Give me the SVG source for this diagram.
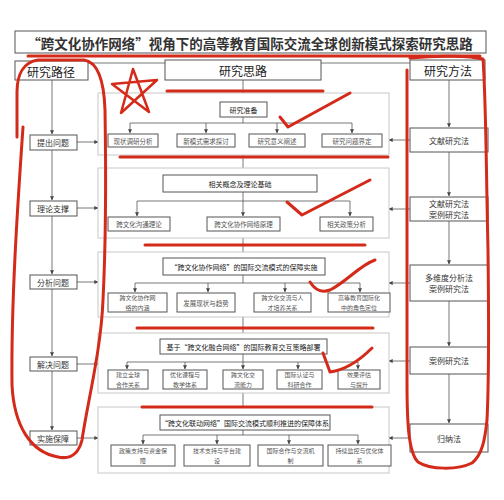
<svg xmlns="http://www.w3.org/2000/svg" width="504" height="500" viewBox="0 0 504 500">
<defs>
<marker id="ah" viewBox="0 0 6 6" refX="5.5" refY="3" markerWidth="5" markerHeight="5" orient="auto"><path d="M0,0 L6,3 L0,6 Z" fill="#444"/></marker>
<style>
text{font-family:"Noto Sans CJK SC","Noto Sans",sans-serif;fill:#333;text-anchor:middle;dominant-baseline:central}
.box{fill:#fff;stroke:#555;stroke-width:1}
.frame{fill:#fff;stroke:#c8c8c8;stroke-width:1}
.ln{fill:none;stroke:#555;stroke-width:0.8}
.ar{fill:none;stroke:#555;stroke-width:0.8;marker-end:url(#ah)}
.s{font-size:6.5px;fill:#555}
.t{font-size:6px;fill:#555}
.m{font-size:7px;fill:#222}
.r{font-size:8px;fill:#333}
.h{font-size:12px;fill:#222}
.red{fill:none;stroke:#d42a1a;stroke-width:3;stroke-linecap:round;stroke-linejoin:round}
</style>
</defs>
<rect width="504" height="500" fill="#fff"/>

<g id="title"><rect class="box" x="15" y="31" width="471" height="22"/><text x="250" y="42.5" style="font-size:13.5px;font-weight:bold" fill="#222">“跨文化协作网络”视角下的高等教育国际交流全球创新模式探索研究思路</text></g>

<g id="connectors">
<line class="ln" x1="88" y1="63" x2="165" y2="63"/>
<line class="ln" x1="321" y1="63" x2="410" y2="63"/>
<line class="ar" x1="52" y1="80" x2="52" y2="134"/>
<line class="ar" x1="52" y1="150" x2="52" y2="200"/>
<line class="ar" x1="52" y1="216" x2="52" y2="274"/>
<line class="ar" x1="52" y1="289" x2="52" y2="356"/>
<line class="ar" x1="52" y1="371" x2="52" y2="430"/>
<line class="ar" x1="77" y1="142" x2="98" y2="142"/>
<line class="ar" x1="77" y1="208" x2="98" y2="208"/>
<line class="ar" x1="77" y1="282" x2="98" y2="282"/>
<line class="ar" x1="77" y1="364" x2="98" y2="364"/>
<line class="ar" x1="77" y1="438" x2="98" y2="438"/>
<line class="ar" x1="449" y1="80" x2="449" y2="127"/>
<line class="ar" x1="449" y1="152" x2="449" y2="196"/>
<line class="ar" x1="449" y1="221" x2="449" y2="264"/>
<line class="ar" x1="449" y1="301" x2="449" y2="346"/>
<line class="ar" x1="449" y1="374" x2="449" y2="423"/>
<line class="ar" x1="410" y1="140" x2="389" y2="140"/>
<line class="ar" x1="410" y1="209" x2="389" y2="209"/>
<line class="ar" x1="410" y1="283" x2="389" y2="283"/>
<line class="ar" x1="410" y1="361" x2="389" y2="361"/>
<line class="ar" x1="410" y1="438" x2="389" y2="438"/>
<line class="ar" x1="243" y1="80" x2="243" y2="101"/>
<line class="ar" x1="243" y1="155" x2="243" y2="174"/>
<line class="ar" x1="243" y1="238" x2="243" y2="257"/>
<line class="ar" x1="243" y1="317" x2="243" y2="338"/>
<line class="ar" x1="243" y1="393" x2="243" y2="414"/>
</g>

<g id="left-header"><rect class="box" x="15" y="61" width="73" height="19"/><text class="h" x="51" y="71">研究路径</text></g>
<g id="mid-header"><rect class="box" x="165" y="60" width="156" height="20"/><text class="h" x="243" y="70">研究思路</text></g>
<g id="right-header"><rect class="box" x="410" y="60" width="75" height="20"/><text class="h" x="448" y="70">研究方法</text></g>

<g id="left-1"><rect class="box" x="30" y="135" width="47" height="15"/><text class="r" x="53" y="142.5">提出问题</text></g>
<g id="left-2"><rect class="box" x="30" y="201" width="47" height="15"/><text class="r" x="53" y="208.5">理论支撑</text></g>
<g id="left-3"><rect class="box" x="30" y="275" width="47" height="14"/><text class="r" x="53" y="282">分析问题</text></g>
<g id="left-4"><rect class="box" x="30" y="357" width="47" height="14"/><text class="r" x="53" y="364">解决问题</text></g>
<g id="left-5"><rect class="box" x="30" y="431" width="47" height="14"/><text class="r" x="53" y="438">实施保障</text></g>

<g id="right-1"><rect class="box" x="410" y="128" width="78" height="24"/><text class="r" x="449" y="140">文献研究法</text></g>
<g id="right-2"><rect class="box" x="410" y="197" width="78" height="24"/><text class="r" x="449" y="203.5">文献研究法</text><text class="r" x="449" y="214.5">案例研究法</text></g>
<g id="right-3"><rect class="box" x="410" y="265" width="78" height="36"/><text class="r" x="449" y="277.5">多维度分析法</text><text class="r" x="449" y="288.5">案例研究法</text></g>
<g id="right-4"><rect class="box" x="410" y="347" width="78" height="27"/><text class="r" x="449" y="360.5">案例研究法</text></g>
<g id="right-5"><rect class="box" x="410" y="424" width="78" height="28"/><text class="r" x="449" y="438">归纳法</text></g>

<g id="sec1">
<rect class="frame" x="98" y="93" width="291" height="62"/>
<rect class="box" x="220" y="102" width="47" height="15"/><text class="m" x="243.5" y="109.5">研究准备</text>
<line class="ln" x1="243" y1="117" x2="243" y2="123"/>
<line class="ln" x1="130" y1="123" x2="352" y2="123"/>
<line class="ar" x1="130" y1="123" x2="130" y2="133"/>
<line class="ar" x1="206" y1="123" x2="206" y2="133"/>
<line class="ar" x1="277" y1="123" x2="277" y2="133"/>
<line class="ar" x1="352" y1="123" x2="352" y2="133"/>
<rect class="box" x="108" y="134" width="50" height="13"/><text class="s" x="133" y="140.5">现状调研分析</text>
<rect class="box" x="177" y="134" width="58" height="13"/><text class="s" x="206" y="140.5">新模式需求探讨</text>
<rect class="box" x="249" y="134" width="56" height="13"/><text class="s" x="277" y="140.5">研究意义阐述</text>
<rect class="box" x="322" y="134" width="60" height="13"/><text class="s" x="352" y="140.5">研究问题界定</text>
</g>

<g id="sec2">
<rect class="frame" x="98" y="168" width="291" height="70"/>
<rect class="box" x="163" y="175" width="154" height="17"/><text class="m" x="240" y="183.5">相关概念及理论基础</text>
<line class="ln" x1="243" y1="192" x2="243" y2="201"/>
<line class="ln" x1="137" y1="201" x2="350" y2="201"/>
<line class="ar" x1="137" y1="201" x2="137" y2="216"/>
<line class="ar" x1="243" y1="201" x2="243" y2="216"/>
<line class="ar" x1="350" y1="201" x2="350" y2="216"/>
<rect class="box" x="108" y="217" width="62" height="14"/><text class="s" x="139" y="224">跨文化沟通理论</text>
<rect class="box" x="207" y="217" width="73" height="14"/><text class="s" x="243.5" y="224">跨文化协作网络原理</text>
<rect class="box" x="320" y="217" width="53" height="14"/><text class="s" x="346.5" y="224">相关政策分析</text>
</g>

<g id="sec3">
<rect class="frame" x="98" y="252" width="291" height="65"/>
<rect class="box" x="163" y="258" width="162" height="17"/><text class="m" x="244" y="266.5">“跨文化协作网络”的国际交流模式的保障实施</text>
<line class="ln" x1="243" y1="275" x2="243" y2="283"/>
<line class="ln" x1="135" y1="283" x2="360" y2="283"/>
<line class="ar" x1="135" y1="283" x2="135" y2="292"/>
<line class="ar" x1="208" y1="283" x2="208" y2="292"/>
<line class="ar" x1="285" y1="283" x2="285" y2="292"/>
<line class="ar" x1="360" y1="283" x2="360" y2="292"/>
<rect class="box" x="108" y="293" width="59" height="19"/><text class="t" x="137.5" y="297.8">跨文化协作网</text><text class="t" x="137.5" y="307.2">络的内涵</text>
<rect class="box" x="177" y="293" width="58" height="19"/><text class="s" x="206" y="302.5">发展现状与趋势</text>
<rect class="box" x="254" y="293" width="57" height="19"/><text class="t" x="282.5" y="297.8">跨文化交流与人</text><text class="t" x="282.5" y="307.2">才培养关系</text>
<rect class="box" x="328" y="293" width="62" height="19"/><text class="t" x="359" y="297.8">高等教育国际化</text><text class="t" x="359" y="307.2">中的角色定位</text>
</g>

<g id="sec4">
<rect class="frame" x="98" y="333" width="291" height="60"/>
<rect class="box" x="160" y="339" width="167" height="15"/><text class="m" x="243.5" y="346.5">基于“跨文化融合网络”的国际教育交互策略部署</text>
<line class="ln" x1="243" y1="354" x2="243" y2="362"/>
<line class="ln" x1="127" y1="362" x2="358" y2="362"/>
<line class="ar" x1="127" y1="362" x2="127" y2="369"/>
<line class="ar" x1="185" y1="362" x2="185" y2="369"/>
<line class="ar" x1="243" y1="362" x2="243" y2="369"/>
<line class="ar" x1="298" y1="362" x2="298" y2="369"/>
<line class="ar" x1="358" y1="362" x2="358" y2="369"/>
<rect class="box" x="108" y="370" width="40" height="19"/><text class="t" x="128" y="374.8">建立全球</text><text class="t" x="128" y="384.2">合作关系</text>
<rect class="box" x="163" y="370" width="44" height="19"/><text class="t" x="185" y="374.8">优化课程与</text><text class="t" x="185" y="384.2">教学体系</text>
<rect class="box" x="223" y="370" width="40" height="19"/><text class="t" x="243" y="374.8">跨文化交</text><text class="t" x="243" y="384.2">流能力</text>
<rect class="box" x="277" y="370" width="45" height="19"/><text class="t" x="299.5" y="374.8">国际认证与</text><text class="t" x="299.5" y="384.2">科研合作</text>
<rect class="box" x="338" y="370" width="42" height="19"/><text class="t" x="359" y="374.8">效果评估</text><text class="t" x="359" y="384.2">与提升</text>
</g>

<g id="sec5">
<rect class="frame" x="98" y="407" width="291" height="66"/>
<rect class="box" x="160" y="415" width="170" height="15"/><text class="m" x="245" y="422.5">“跨文化联动网络”国际交流模式顺利推进的保障体系</text>
<line class="ln" x1="243" y1="430" x2="243" y2="435"/>
<line class="ln" x1="143" y1="435" x2="358" y2="435"/>
<line class="ar" x1="143" y1="435" x2="143" y2="444"/>
<line class="ar" x1="217" y1="435" x2="217" y2="444"/>
<line class="ar" x1="289" y1="435" x2="289" y2="444"/>
<line class="ar" x1="358" y1="435" x2="358" y2="444"/>
<rect class="box" x="111" y="445" width="64" height="21"/><text class="t" x="143" y="450.5">政策支持与资金保</text><text class="t" x="143" y="460.5">障</text>
<rect class="box" x="184" y="445" width="66" height="21"/><text class="t" x="217" y="450.5">技术支持与平台建</text><text class="t" x="217" y="460.5">设</text>
<rect class="box" x="258" y="445" width="65" height="21"/><text class="t" x="290.5" y="450.5">国际合作与交流机</text><text class="t" x="290.5" y="460.5">制</text>
<rect class="box" x="328" y="445" width="63" height="21"/><text class="t" x="359.5" y="450.5">持续监控与优化体</text><text class="t" x="359.5" y="460.5">系</text>
</g>

<g id="annotations">
<path class="red" d="M28 56 L480 56"/>
<path class="red" d="M17 137 L17 92 C17 74 24 62 38 60 L84 60 C98 62 104 80 105 110 C106 170 106 240 103 300 C101 350 88 400 82 440 C79 452 72 460 58 457 C30 452 14 425 12 385 C11 300 18 200 23 127"/>
<path class="red" d="M410 58 C440 55 470 56 483 59 C486 100 486 160 488 250 C489 330 489 380 487 420 C485 440 482 455 472 463 C458 470 430 470 418 462 C408 452 407 420 407 380 L407 70"/>
<path class="red" d="M121 113 L133 69 L149 112 L112 84 L157 80 Z" style="stroke-width:2.5"/>
<path class="red" d="M167 91 L323 91"/>
<path class="red" d="M280 117 L288 127 L350 93"/>
<path class="red" d="M120 157 L388 157"/>
<path class="red" d="M287 202 L302 215 L370 180"/>
<path class="red" d="M145 245 L365 245"/>
<path class="red" d="M310 282 C315 290 322 293 330 290 C345 283 360 265 375 260"/>
<path class="red" d="M137 328 L373 328"/>
<path class="red" d="M323 353 L330 372 C345 370 360 360 372 348"/>
<path class="red" d="M142 407 L372 407"/>
</g>
</svg>
